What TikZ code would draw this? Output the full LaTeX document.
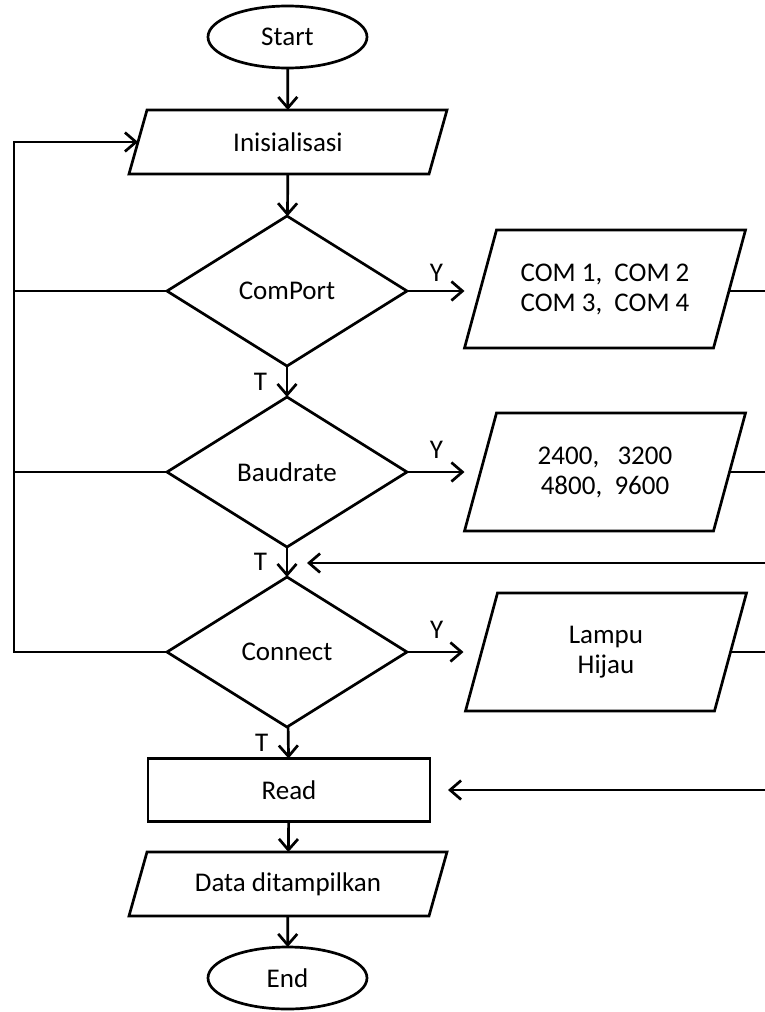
\documentclass[tikz,border=0pt]{standalone}
\usepackage{fontspec}
\setmainfont{Carlito}
\usetikzlibrary{shapes.geometric,arrows.meta}

\newcommand\ioframe[2]{%
  \draw ([xshift=-#2]#1.south west) -- ([xshift=-#2]#1.south east)
    -- ([xshift=#2]#1.north east) -- ([xshift=#2]#1.north west) -- cycle;}

\begin{document}
\begin{tikzpicture}[x=0.5pt,y=-0.5pt,line width=1.35pt,
  >={Straight Barb[length=5.5pt,width=9.5pt]},
  every node/.style={font=\fontsize{13.5}{15}\selectfont,inner sep=0pt,outer sep=0pt},
  terminal/.style={draw,ellipse,minimum width=79.5pt,minimum height=31pt},
  process/.style={draw,rectangle,minimum width=141pt,minimum height=31.5pt},
  io/.style={rectangle,minimum width=150pt,minimum height=32pt,align=center},
  iobig/.style={io,minimum width=124.5pt,minimum height=59pt},
  decision/.style={draw,diamond,minimum width=120pt,minimum height=75pt},
  answer/.style={font=\fontsize{13.5}{15}\selectfont}]
  \useasboundingbox (0,0) rectangle (765,1012);

  \node[terminal] (start) at (287.5,37) {Start};
  \node[io] (init) at (288,142) {Inisialisasi};
  \node[decision] (comport) at (287,291) {ComPort};
  \node[decision] (baud) at (287,472) {Baudrate};
  \node[decision] (conn) at (287,652) {Connect};
  \node[process] (read) at (289,790) {Read};
  \node[io] (data) at (288,884) {Data ditampilkan};
  \node[terminal] (stop) at (287.5,978) {End};

  \node[iobig] (comBox) at (605,289) {COM 1,\ \ COM 2\\COM 3,\ \ COM 4};
  \node[iobig] (baudBox) at (605,472) {2400,\ \ \ 3200\\4800,\ \ 9600};
  \node[iobig] (lampBox) at (606,652) {Lampu\\Hijau};

  \ioframe{init}{4.5pt}
  \ioframe{data}{4.5pt}
  \ioframe{comBox}{8pt}
  \ioframe{baudBox}{8pt}
  \ioframe{lampBox}{8pt}

  \coordinate (loopTop) at (14,142);
  \coordinate (rightA) at (765,563);
  \coordinate (rightB) at (765,790);

  \draw[->] (start) -- (init);
  \draw[->] (init) -- (comport);
  \draw[->] (comport) -- node[answer,left=10pt] {T} (baud);
  \draw[->] (baud) -- node[answer,left=10pt] {T} (conn);
  \draw[->] (conn) -- node[answer,left=10pt] {T} (read);
  \draw[->] (read) -- (data);
  \draw[->] (data) -- (stop);

  \draw[->,shorten >=8pt] (comport.east) -- node[answer,above=5pt,pos=0.4] {Y} (comport.east -| comBox.west);
  \draw[->,shorten >=8pt] (baud.east) -- node[answer,above=7pt,pos=0.4] {Y} (baudBox.west);
  \draw[->,shorten >=9pt] (conn.east) -- node[answer,above=7pt,pos=0.4] {Y} (lampBox.west);

  \draw (comport.west) -- (comport.west -| loopTop);
  \draw (baud.west) -- (baud.west -| loopTop);
  \draw[->] (conn.west) -- (conn.west -| loopTop) -- (loopTop) -- (init.west);

  \draw (comport.east -| comBox.east) -- (comport.east -| rightA);
  \draw (baudBox.east) -- (baudBox.east -| rightA);
  \draw (lampBox.east) -- (lampBox.east -| rightA);
  \draw[->,shorten >=10pt] (rightA) -- (rightA -| baud.south);
  \draw[->,shorten >=9pt] (rightB) -- (read.east);
\end{tikzpicture}
\end{document}
